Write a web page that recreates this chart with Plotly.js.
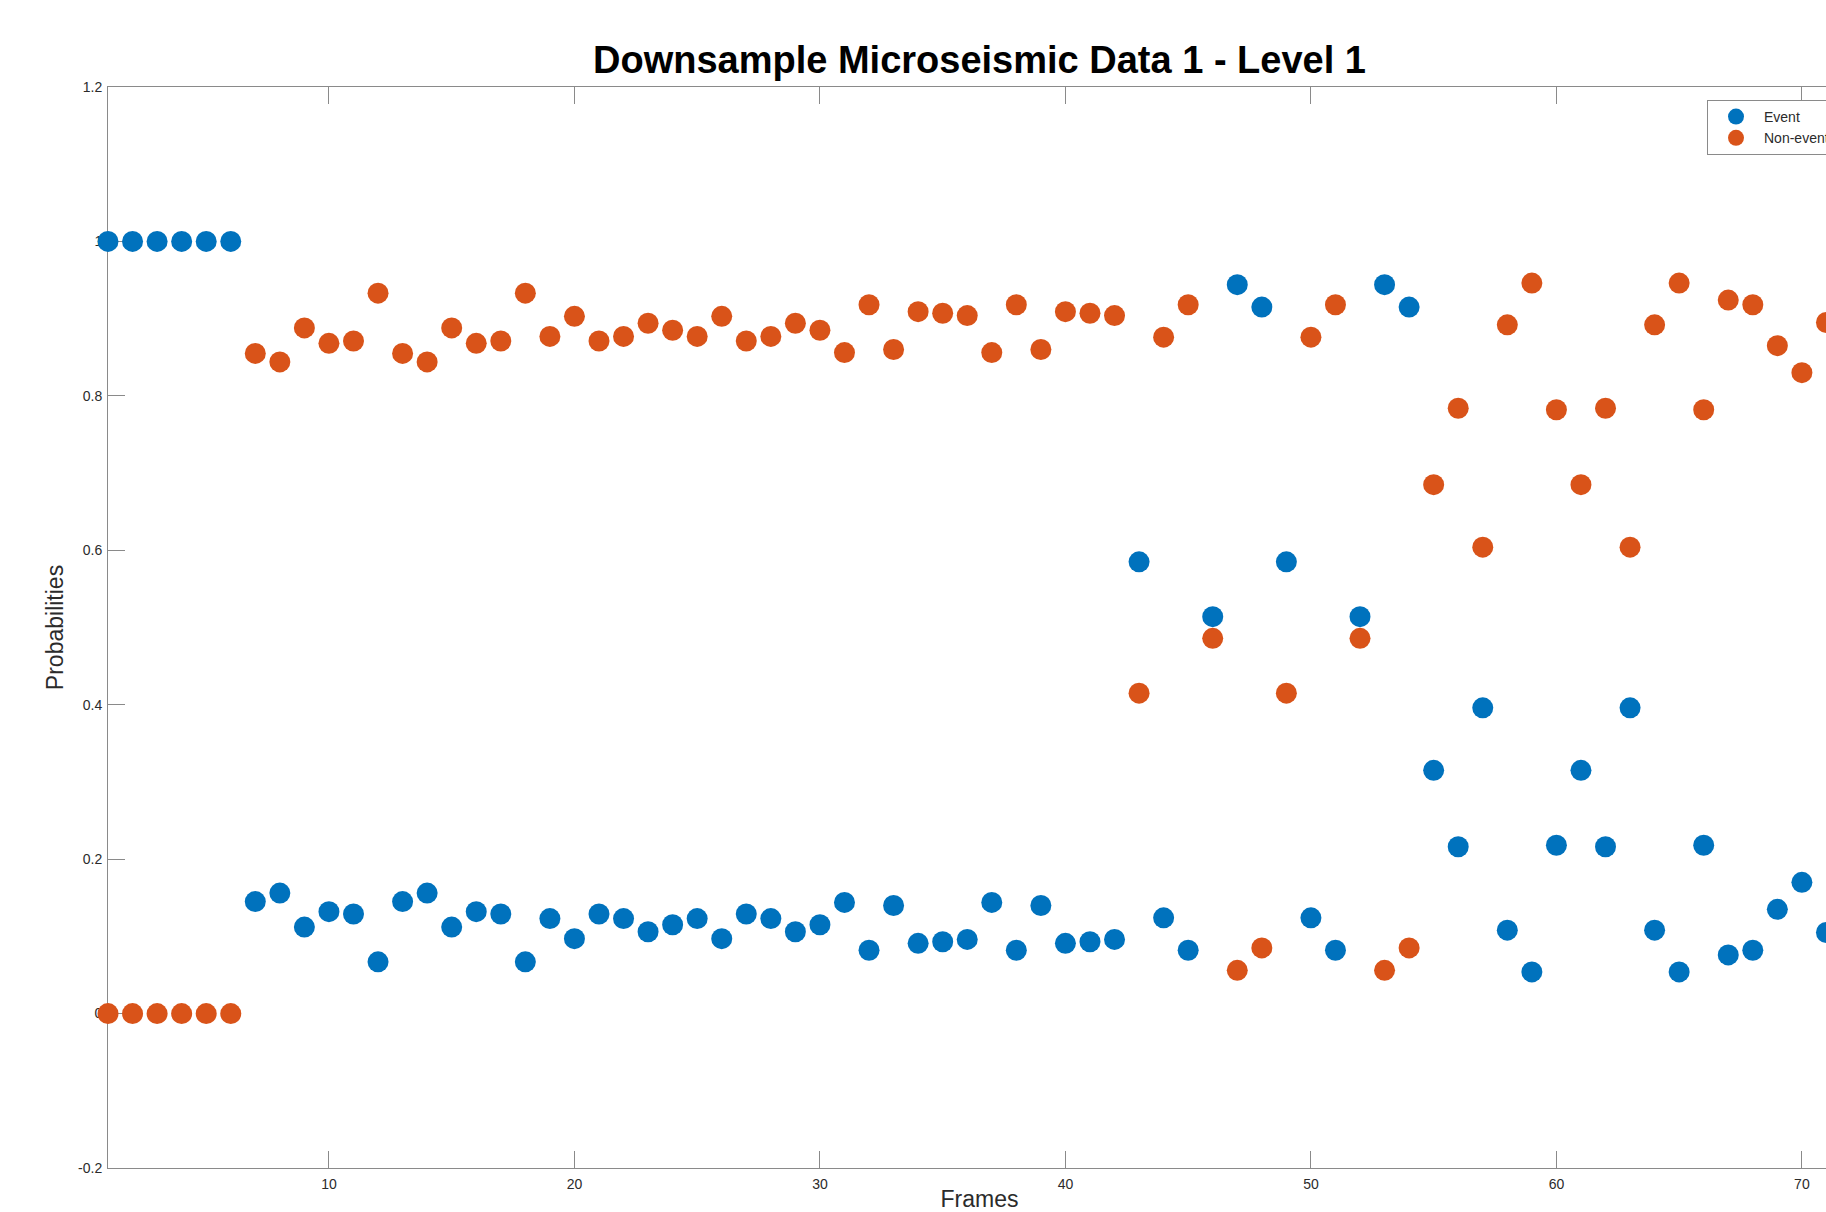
<!DOCTYPE html>
<html>
<head>
<meta charset="utf-8">
<script src="https://cdn.plot.ly/plotly-3.0.1.min.js"></script>
<style>
  html, body { margin: 0; padding: 0; background: #ffffff; overflow: hidden; width: 1826px; height: 1212px; }
  #chart { width: 1900px; height: 1212px; }
</style>
</head>
<body>
<div id="chart"></div>
<script>
const frames = [1,2,3,4,5,6,7,8,9,10,11,12,13,14,15,16,17,18,19,20,
  21,22,23,24,25,26,27,28,29,30,31,32,33,34,35,36,37,38,39,40,
  41,42,43,44,45,46,47,48,49,50,51,52,53,54,55,56,57,58,59,60,
  61,62,63,64,65,66,67,68,69,70,71];

const eventProb = [1,1,1,1,1,1,
  0.145,0.156,0.112,0.132,0.129,0.067,
  0.145,0.156,0.112,0.132,0.129,0.067,
  0.123,0.097,0.129,0.123,0.106,0.115,
  0.123,0.097,0.129,0.123,0.106,0.115,
  0.144,0.082,0.140,0.091,0.093,0.096,
  0.144,0.082,0.140,0.091,0.093,0.096,
  0.585,0.124,0.082,0.514,0.944,0.915,
  0.585,0.124,0.082,0.514,0.944,0.915,
  0.315,0.216,0.396,0.108,0.054,0.218,
  0.315,0.216,0.396,0.108,0.054,0.218,
  0.076,0.082,0.135,0.170,0.105];

const nonEventProb = [0,0,0,0,0,0,
  0.855,0.844,0.888,0.868,0.871,0.933,
  0.855,0.844,0.888,0.868,0.871,0.933,
  0.877,0.903,0.871,0.877,0.894,0.885,
  0.877,0.903,0.871,0.877,0.894,0.885,
  0.856,0.918,0.860,0.909,0.907,0.904,
  0.856,0.918,0.860,0.909,0.907,0.904,
  0.415,0.876,0.918,0.486,0.056,0.085,
  0.415,0.876,0.918,0.486,0.056,0.085,
  0.685,0.784,0.604,0.892,0.946,0.782,
  0.685,0.784,0.604,0.892,0.946,0.782,
  0.924,0.918,0.865,0.830,0.895];

const seriesNames = ['Event', 'Non-event'];
const xTickVals = [10,20,30,40,50,60,70];
const yTickVals = [-0.2,0,0.2,0.4,0.6,0.8,1,1.2];
const yTickText = ['-0.2','0','0.2','0.4','0.6','0.8','1','1.2'];

const FONT = '"Liberation Sans", Arial, Helvetica, sans-serif';
const AXIS_GRAY = '#8a8a8a';
const TEXT_GRAY = '#2b2b2b';

const traces = [
  {
    x: frames, y: eventProb, name: seriesNames[0],
    type: 'scatter', mode: 'markers', cliponaxis: false,
    marker: { color: '#0072BD', size: 21, line: { width: 0 } }
  },
  {
    x: frames, y: nonEventProb, name: seriesNames[1],
    type: 'scatter', mode: 'markers', cliponaxis: false,
    marker: { color: '#D95319', size: 21, line: { width: 0 } }
  }
];

const layout = {
  width: 1900, height: 1212,
  margin: { l: 108, r: 49, t: 87, b: 44 },
  paper_bgcolor: '#ffffff', plot_bgcolor: '#ffffff',
  font: { family: FONT, color: TEXT_GRAY, size: 14 },
  title: {
    text: '<b>Downsample Microseismic Data 1 - Level 1</b>',
    font: { family: FONT, size: 38, color: '#000000' },
    x: 0.5, xref: 'paper', xanchor: 'center',
    y: 1 - 60 / 1212, yref: 'container', yanchor: 'middle'
  },
  xaxis: {
    range: [1, 72], autorange: false,
    tickmode: 'array', tickvals: xTickVals,
    ticks: 'inside', ticklen: 17, tickwidth: 1, tickcolor: AXIS_GRAY,
    showline: true, linecolor: AXIS_GRAY, linewidth: 1, mirror: 'ticks',
    showgrid: false, zeroline: false, layer: 'below traces',
    ticklabelstandoff: 3,
    automargin: 'left',
    tickfont: { family: FONT, size: 14, color: TEXT_GRAY },
    title: { text: 'Frames', font: { family: FONT, size: 23, color: TEXT_GRAY }, standoff: 18 }
  },
  yaxis: {
    range: [-0.2, 1.2], autorange: false,
    tickmode: 'array', tickvals: yTickVals, ticktext: yTickText,
    ticks: 'inside', ticklen: 17, tickwidth: 1, tickcolor: AXIS_GRAY,
    showline: true, linecolor: AXIS_GRAY, linewidth: 1, mirror: 'ticks',
    showgrid: false, zeroline: false, layer: 'below traces',
    ticklabelstandoff: 2,
    automargin: 'bottom',
    tickfont: { family: FONT, size: 14, color: TEXT_GRAY },
    title: { text: 'Probabilities', font: { family: FONT, size: 23, color: TEXT_GRAY }, standoff: 8 }
  },
  showlegend: true,
  legend: {
    x: (1707 - 108) / 1743, xanchor: 'left',
    y: (1168 - 100) / 1081, yanchor: 'top',
    bgcolor: '#ffffff', bordercolor: AXIS_GRAY, borderwidth: 1,
    font: { family: FONT, size: 14, color: TEXT_GRAY },
    itemwidth: 46,
    tracegroupgap: 0
  }
};

Plotly.newPlot('chart', traces, layout, { displayModeBar: false, staticPlot: true });
</script>
</body>
</html>
